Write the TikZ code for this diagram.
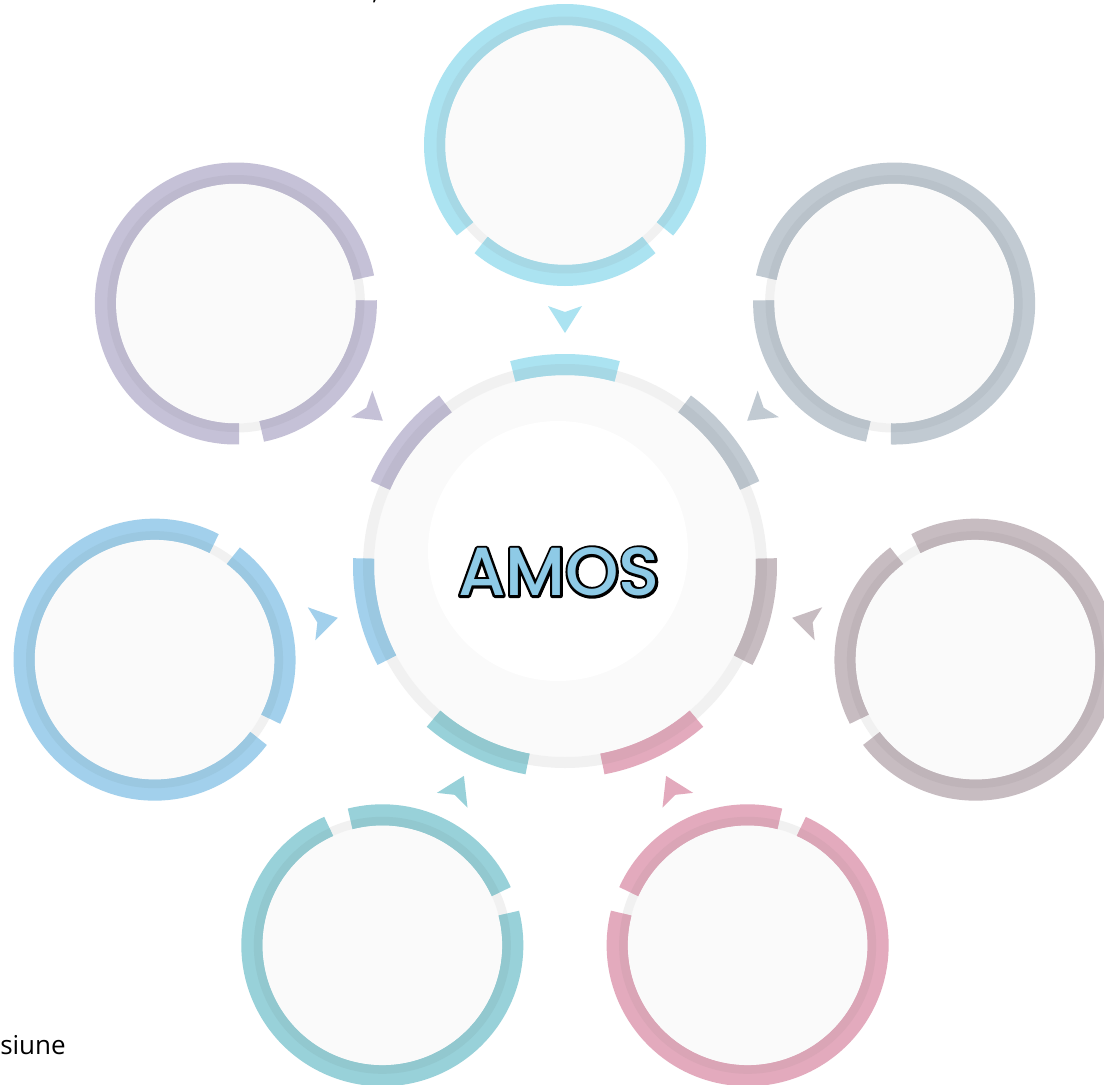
\documentclass[tikz,border=0pt]{standalone}
\usepackage{fontspec}
\usetikzlibrary{calc}
\newfontfamily\amosfont{Poppins Medium}
\newfontfamily\opensans{Open Sans}
\definecolor{diskfill}{HTML}{FAFAFA}
\definecolor{greyring}{HTML}{F1F1F1}
\definecolor{amosblue}{HTML}{8ECAE6}
\definecolor{ringL0}{HTML}{ABE3F1}\definecolor{ringD0}{HTML}{A6D8E5}
\definecolor{ringL1}{HTML}{C1CAD2}\definecolor{ringD1}{HTML}{B9C2CA}
\definecolor{ringL2}{HTML}{C7BCC1}\definecolor{ringD2}{HTML}{BFB4B9}
\definecolor{ringL3}{HTML}{E3AABD}\definecolor{ringD3}{HTML}{DAA5B6}
\definecolor{ringL4}{HTML}{98D1D9}\definecolor{ringD4}{HTML}{92C8CF}
\definecolor{ringL5}{HTML}{A2D0EC}\definecolor{ringD5}{HTML}{9BC8E1}
\definecolor{ringL6}{HTML}{C5C1D7}\definecolor{ringD6}{HTML}{BDB9CE}
\begin{document}
\begin{tikzpicture}[x=0.75pt,y=0.75pt,
  satdisk/.style={circle,fill=diskfill,draw=none,inner sep=0pt,outer sep=0pt,minimum size=180pt},
  maindisk/.style={circle,fill=diskfill,draw=none,inner sep=0pt,outer sep=0pt,minimum size=286.5pt},
  innerdisk/.style={circle,fill=white,draw=none,inner sep=0pt,outer sep=0pt,minimum size=195pt},
  satgrey/.style={draw=greyring,line width=6.75pt},
  satband/.style={line width=15.75pt},
  satdark/.style={line width=6.375pt},
  maingrey/.style={draw=greyring,line width=8.25pt},
  mainband/.style={line width=15.75pt},
  maindark/.style={line width=8.25pt},
  titletext/.style={inner sep=0pt,font=\fontsize{51pt}{51pt}\amosfont}]
\useasboundingbox (0,0) rectangle (1104,-1085);
\fill[white] (0,0) rectangle (1104,-1085);
\coordinate (M) at (565,-566);
% central circle
\node[maindisk] (main) at (M) {};
\node[innerdisk] (inner) at (558,-551) {};
\draw[maingrey] (main.center) circle[radius=196.5];
\foreach \k in {0,...,6}{
  \pgfmathsetmacro\t{90-\k*360/7}
  \draw[mainband,draw=ringL\k] ($(main.center)+(\t-15:201.5)$) arc[start angle=\t-15,end angle=\t+15,radius=201.5];
  \draw[maindark,draw=ringD\k] ($(main.center)+(\t-15:196.5)$) arc[start angle=\t-15,end angle=\t+15,radius=196.5];
  % arrowhead
  \fill[ringL\k] ($(main.center)+(\t:233)$) -- ($(main.center)+(\t:260)+(\t+90:17)$) -- ($(main.center)+(\t:254)$) -- ($(main.center)+(\t:260)+(\t-90:17)$) -- cycle;
  % satellite
  \pgfmathsetmacro\f{\t+180}
  \node[satdisk] (s\k) at ($(main.center)+(\t:421)$) {};
  \draw[satgrey] (s\k.center) circle[radius=124.5];
  \draw[satband,draw=ringL\k] ($(s\k.center)+(\f-40:130.5)$) arc[start angle=\f-40,end angle=\f+40,radius=130.5];
  \draw[satband,draw=ringL\k] ($(s\k.center)+(\f+50:130.5)$) arc[start angle=\f+50,end angle=\f+310,radius=130.5];
  \draw[satdark,draw=ringD\k] ($(s\k.center)+(\f-40:124.25)$) arc[start angle=\f-40,end angle=\f+40,radius=124.25];
  \draw[satdark,draw=ringD\k] ($(s\k.center)+(\f+50:124.25)$) arc[start angle=\f+50,end angle=\f+310,radius=124.25];
}
% title: black stroked copy under, blue fill on top
\node[titletext,text=black] (amosline) at (559,-572) {\special{pdf:literal direct 2 Tr 3.8 w 1 j 0 0 0 RG 0 0 0 rg}AMOS\special{pdf:literal direct 0 Tr}};
\node[titletext,text=amosblue] (amos) at (559,-572) {AMOS};
\node[anchor=base west,inner sep=0pt] (ver) at (0,-1054) {\fontsize{19.5pt}{22pt}\opensans siune};
\node[anchor=base west,inner sep=0pt] (topmark) at (372,1) {\fontsize{19.5pt}{22pt}\opensans ,};
\end{tikzpicture}
\end{document}
